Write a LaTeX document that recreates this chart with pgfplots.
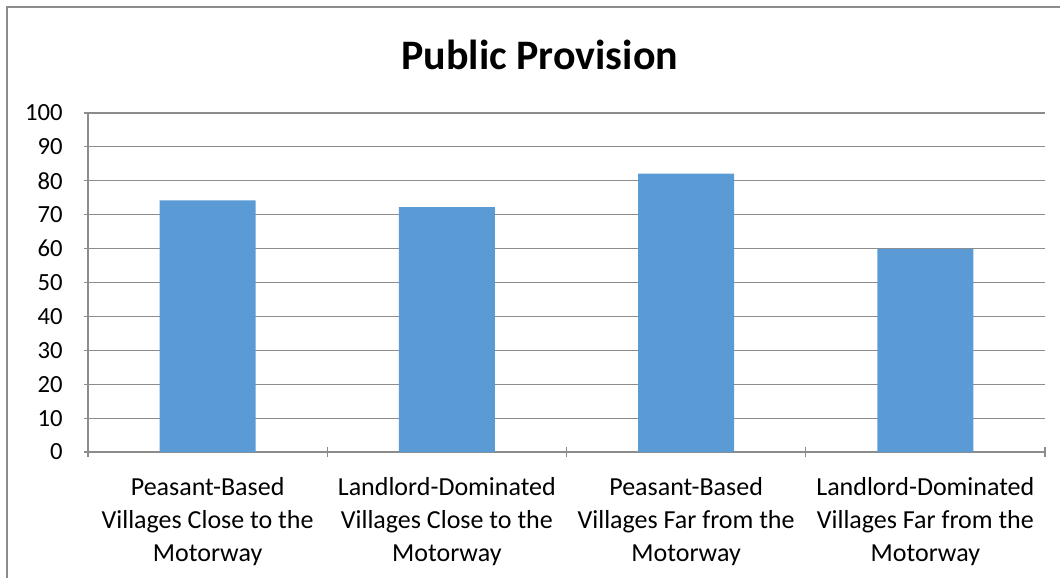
\documentclass[border=0pt]{standalone}
\usepackage{fontspec}
\setmainfont{Carlito}
\usepackage{pgfplots}
\pgfplotsset{compat=1.18}
\definecolor{barblue}{HTML}{5B9BD5}
\definecolor{gridgrey}{HTML}{8C8C8C}
\begin{document}
\begin{tikzpicture}[x=0.75pt,y=0.75pt]
\begin{axis}[
    name=ax,
    scale only axis,
    width=717.75pt, height=254.25pt,
    ybar, bar width=72pt,
    xmin=-0.5, xmax=3.5,
    ymin=0, ymax=100,
    ytick={0,10,...,100},
    xtick={0,1,2,3},
    xticklabels={{Peasant-Based\\Villages Close to the\\Motorway},
                 {Landlord-Dominated\\Villages Close to the\\Motorway},
                 {Peasant-Based\\Villages Far from the\\Motorway},
                 {Landlord-Dominated\\Villages Far from the\\Motorway}},
    xticklabel style={align=center, font=\fontsize{19.5}{24.7}\selectfont, yshift=-12.5pt},
    yticklabel style={font=\fontsize{18.5}{20}\selectfont, xshift=-12.5pt},
    /pgf/number format/assume math mode=true,
    major x tick style={draw=none},
    minor xtick={-0.5,0.5,1.5,2.5,3.5},
    minor tick length=7.5pt,
    major tick length=6pt,
    tick align=outside,
    tick style={gridgrey, line width=0.8pt},
    axis lines=left,
    axis line style={-, gridgrey, line width=0.8pt},
    ymajorgrids,
    grid style={gridgrey, line width=0.8pt},
    title={\bfseries Public Provision},
    title style={font=\fontsize{31.5}{36}\selectfont\bfseries, at={(0.472,1)}, yshift=22.5pt},
    clip=false,
]
\addplot[fill=barblue, draw=none] coordinates {(0,74.2) (1,72.2) (2,82.1) (3,59.9)};
\end{axis}
\path[use as bounding box] (ax.south west) ++(-88,-126) rectangle ++(1060,578);
\draw[gridgrey, line width=0.8pt] (ax.south west) ++(-81,-126) -- ++(0,571) -- ++(1053,0);
\end{tikzpicture}
\end{document}
